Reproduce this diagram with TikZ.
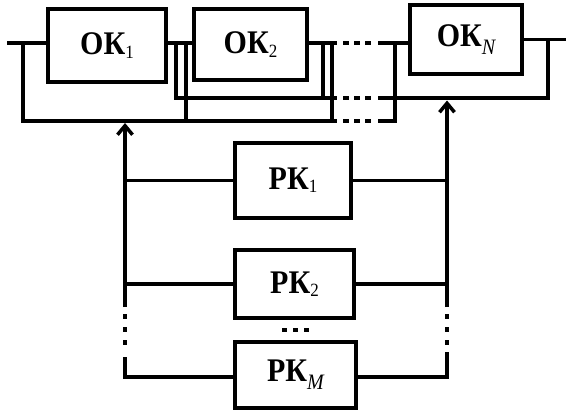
\documentclass[tikz,border=0pt]{standalone}
\usepackage{fontspec}
\setmainfont{Liberation Serif}
\usetikzlibrary{arrows.meta}
\newcommand\subone[1]{\raisebox{-3pt}{\fontsize{17}{17}\selectfont\mdseries #1}}
\newcommand\subital[1]{\raisebox{-7pt}{\fontsize{20}{20}\selectfont\mdseries\itshape #1}}
\newcommand\lbl[1]{\scalebox{1}[1.1]{#1}}
\begin{document}
\begin{tikzpicture}[x=1pt,y=-1pt,
  blk/.style={draw,line width=3.5pt,inner sep=0pt,font=\fontsize{30}{30}\selectfont\bfseries},
  wire/.style={line width=3.5pt},
  dotline/.style={line width=3.5pt,dash pattern=on 6pt off 5pt},
  vdots/.style={line width=3.5pt,dash pattern=on 5pt off 8pt},
  arr/.style={line width=3.5pt,-{Straight Barb[length=9pt,width=15pt]}}
]
\useasboundingbox (0,0) rectangle (566,412);
% blocks
\node[blk,minimum width=118pt,minimum height=73pt] (ok1) at (107,45.5) {\lbl{ОК\subone{1}}};
\node[blk,minimum width=113pt,minimum height=71pt] (ok2) at (250.5,44.5) {\lbl{ОК\subone{2}}};
\node[blk,minimum width=112pt,minimum height=69pt] (okn) at (466,39.5) {\lbl{ОК\subital{N}}};
\node[blk,minimum width=116pt,minimum height=75pt] (rk1) at (293,180.5) {\lbl{РК\subone{1}}};
\node[blk,minimum width=119pt,minimum height=68pt] (rk2) at (294.5,284) {\lbl{РК\subone{2}}};
\node[blk,minimum width=121pt,minimum height=66pt] (rkm) at (295.5,375) {\lbl{РК\subital{M}}};
% coordinates
\coordinate (in) at (7,43);
\coordinate (inj) at (23,43);
\coordinate (bl) at (23,121);
\coordinate (j1) at (176,43);
\coordinate (j2) at (186,43);
\coordinate (j3) at (323,43);
\coordinate (j4) at (332,43);
\coordinate (m1) at (176,98);
\coordinate (m3) at (323,98);
\coordinate (b2) at (186,121);
\coordinate (b4) at (332,121);
\coordinate (te) at (337,43);
\coordinate (me) at (337,98);
\coordinate (be) at (337,121);
\coordinate (td0) at (343,43);
\coordinate (td1) at (372,43);
\coordinate (md0) at (343,98);
\coordinate (md1) at (372,98);
\coordinate (bd0) at (343,121);
\coordinate (bd1) at (372,121);
\coordinate (ts) at (378,43);
\coordinate (ms) at (378,98);
\coordinate (bs) at (378,121);
\coordinate (bc) at (395,121);
\coordinate (tc) at (395,43);
\coordinate (mr) at (548,98);
\coordinate (outj) at (548,39.5);
\coordinate (out) at (566,39.5);
\coordinate (lt) at (125,123);
\coordinate (rt) at (447,100.5);
\coordinate (lbot) at (125,377);
\coordinate (rbot) at (447,377);
% top chain
\draw[wire] (in) -- (ok1.west |- in);
\draw[wire] (ok1.east |- j1) -- (ok2.west |- j1);
\draw[wire] (ok2.east |- j3) -- (te);
\draw[dotline] (td0) -- (td1);
\draw[wire] (ts) -- (okn.west |- ts);
\draw[wire] (okn.east) -- (out);
% bottom bypass line
\draw[wire] (inj) -- (bl) -- (be);
\draw[dotline] (bd0) -- (bd1);
\draw[wire] (bs) -- (bc) -- (tc);
% middle feedback line
\draw[wire] (j1) -- (m1) -- (me);
\draw[dotline] (md0) -- (md1);
\draw[wire] (ms) -- (mr) -- (outj);
% junction verticals
\draw[wire] (j2) -- (b2);
\draw[wire] (j3) -- (m3);
\draw[wire] (j4) -- (b4);
% left bus
\draw[arr] (125,307) -- (lt);
\draw[vdots] (125,314) -- (125,346);
\draw[wire] (125,357) -- (lbot) -- (rkm.west |- lbot);
\draw[wire] (rk1.west) -- (rk1.west -| lt);
\draw[wire] (rk2.west) -- (rk2.west -| lt);
% right bus
\draw[arr] (447,307) -- (rt);
\draw[vdots] (447,314) -- (447,346);
\draw[wire] (447,352) -- (rbot) -- (rkm.east |- rbot);
\draw[wire] (rk1.east) -- (rk1.east -| rt);
\draw[wire] (rk2.east) -- (rk2.east -| rt);
% dots between RK2 and RKM
\draw[line width=3.5pt,dash pattern=on 5pt off 6pt] (282,330) -- (309,330);
\end{tikzpicture}
\end{document}
